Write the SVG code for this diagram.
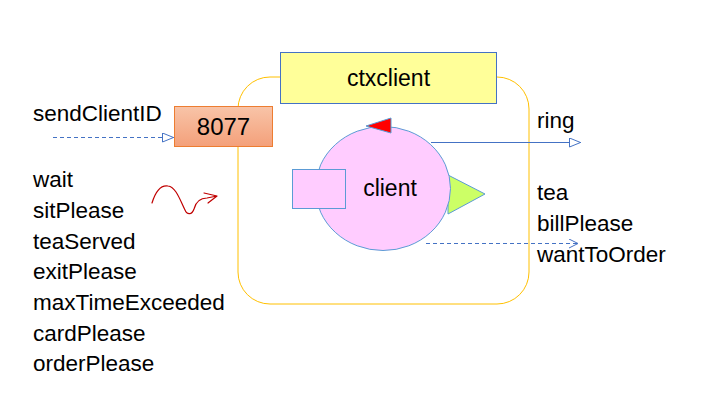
<svg xmlns="http://www.w3.org/2000/svg" width="716" height="412" viewBox="0 0 716 412">
<style>
text{font-family:"Liberation Sans",Arial,sans-serif;fill:#000;}
.lbl{font-size:22.5px;}
.big{font-size:23px;}
</style>
<defs>
<linearGradient id="og" x1="0" y1="0" x2="0" y2="1">
<stop offset="0" stop-color="#F8C4A8"/>
<stop offset="1" stop-color="#F4A07A"/>
</linearGradient>
<marker id="tri" viewBox="0 0 12 10" refX="12" refY="5" markerWidth="12" markerHeight="10" markerUnits="userSpaceOnUse" orient="auto">
<path d="M0.5,0.5 L11.5,5 L0.5,9.5 Z" fill="#fff" stroke="#4472C4" stroke-width="1"/>
</marker>
<marker id="chev" viewBox="0 0 10 10" refX="9.5" refY="5" markerWidth="10" markerHeight="10" markerUnits="userSpaceOnUse" orient="auto">
<path d="M0.5,0.5 L9.5,5 L0.5,9.5" fill="none" stroke="#4472C4" stroke-width="1"/>
</marker>
</defs>
<rect width="716" height="412" fill="#fff"/>
<g id="ctx">
<rect x="238" y="77" width="291" height="227" rx="32" ry="32" fill="none" stroke="#FFC000" stroke-width="1"/>
</g>
<g id="ctxclient">
<rect x="280.5" y="52.5" width="216" height="51" fill="#FFFF99" stroke="#4472C4" stroke-width="1"/>
<text class="big" x="388.5" y="86" text-anchor="middle">ctxclient</text>
</g>
<g id="port8077">
<rect x="174.5" y="106.5" width="98" height="40" fill="url(#og)" stroke="#ED7D31" stroke-width="1"/>
<text x="223.5" y="135" text-anchor="middle" font-size="24">8077</text>
</g>
<g id="client">
<polygon points="448,175 485,194 448,214" fill="#CCFF66" stroke="#5B9BD5" stroke-width="1"/>
<ellipse cx="383" cy="188.5" rx="67.5" ry="62" fill="#FFCCFF" stroke="#5B9BD5" stroke-width="1"/>
<polygon points="366,126 391,118 391,133" fill="#FF0000" stroke="#5B9BD5" stroke-width="1"/>
<rect x="292.5" y="169.5" width="53" height="39" fill="#FFCCFF" stroke="#5B9BD5" stroke-width="1"/>
<text class="big" x="390" y="196" text-anchor="middle">client</text>
</g>
<g id="connectors">
<line x1="53" y1="137.5" x2="174" y2="137.5" stroke="#4472C4" stroke-width="1" stroke-dasharray="4,3" marker-end="url(#tri)"/>
<line x1="431" y1="142.5" x2="581" y2="142.5" stroke="#4472C4" stroke-width="1.2" marker-end="url(#tri)"/>
<line x1="426" y1="243.5" x2="578" y2="243.5" stroke="#4472C4" stroke-width="1" stroke-dasharray="4,3" marker-end="url(#chev)"/>
<path d="M152,203 C156,190 162,185 168,186 C176,187 180,200 185,210 C187,215 192,215 194,209 C196,201 200,198 207,198 L217,196 M204,193 L217,196 L208,203" fill="none" stroke="#C00000" stroke-width="1.2" stroke-linecap="round" stroke-linejoin="round"/>
</g>
<g id="labels">
<text class="lbl" x="33" y="121">sendClientID</text>
<text class="lbl" x="33" y="187">wait</text>
<text class="lbl" x="33" y="218">sitPlease</text>
<text class="lbl" x="33" y="249">teaServed</text>
<text class="lbl" x="33" y="279">exitPlease</text>
<text class="lbl" x="33" y="310">maxTimeExceeded</text>
<text class="lbl" x="33" y="341">cardPlease</text>
<text class="lbl" x="33" y="371">orderPlease</text>
<text class="lbl" x="537" y="128">ring</text>
<text class="lbl" x="537" y="200">tea</text>
<text class="lbl" x="537" y="231">billPlease</text>
<text class="lbl" x="537" y="262">wantToOrder</text>
</g>
</svg>
